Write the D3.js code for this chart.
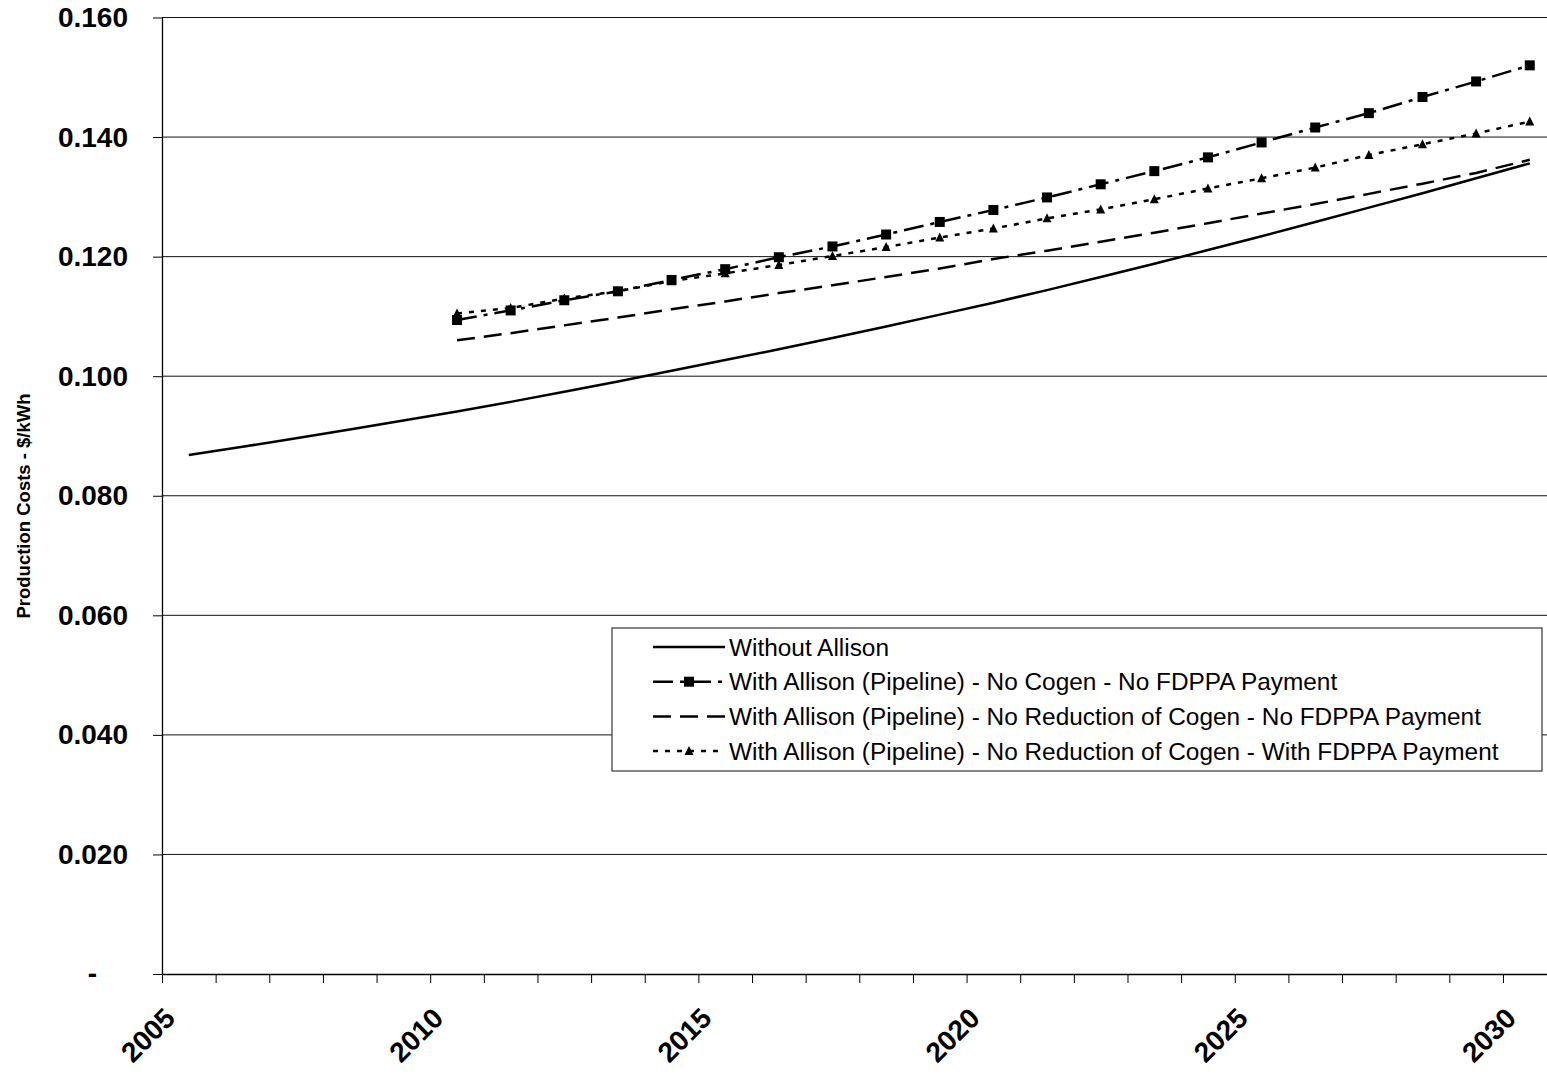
<!DOCTYPE html>
<html>
<head>
<meta charset="utf-8">
<script src="https://cdn.jsdelivr.net/npm/d3@7"></script>
<style>
  body { margin: 0; background: #fff; }
  text { font-family: Arial, "Liberation Sans", sans-serif; fill: #000; }
</style>
</head>
<body>
<div id="chart"></div>
<script>
// years on the category axis
const years = d3.range(2005, 2031);
const labelYears = [2005, 2010, 2015, 2020, 2025, 2030];
const yTicks = [0, 0.02, 0.04, 0.06, 0.08, 0.10, 0.12, 0.14, 0.16];

// Without Allison, 2005-2030
const withoutAllison = [0.0868, 0.0882, 0.0896, 0.0911, 0.0926, 0.0941, 0.0957, 0.0974, 0.0991, 0.1009,
  0.1027, 0.1045, 0.1064, 0.1083, 0.1103, 0.1123, 0.1144, 0.1166, 0.1188, 0.1211,
  0.1234, 0.1258, 0.1282, 0.1306, 0.1331, 0.1356];

// the three Allison cases, 2010-2030
const allisonYears = d3.range(2010, 2031);
const noCogenNoFdppa = [0.1094, 0.1110, 0.1127, 0.1142, 0.1161, 0.1179, 0.1199, 0.1217, 0.1237, 0.1258,
  0.1278, 0.1299, 0.1321, 0.1343, 0.1366, 0.1391, 0.1416, 0.1440, 0.1467, 0.1493, 0.1520];
const noReductionNoFdppa = [0.1060, 0.1072, 0.1085, 0.1098, 0.1112, 0.1125, 0.1139, 0.1152, 0.1166, 0.1180,
  0.1196, 0.1210, 0.1225, 0.1240, 0.1256, 0.1272, 0.1288, 0.1305, 0.1322, 0.1340, 0.1362];
const noReductionWithFdppa = [0.1105, 0.1114, 0.1130, 0.1142, 0.1159, 0.1172, 0.1186, 0.1201, 0.1216, 0.1232,
  0.1247, 0.1264, 0.1279, 0.1296, 0.1314, 0.1331, 0.1349, 0.1370, 0.1388, 0.1406, 0.1426];

const seriesNames = [
  "Without Allison",
  "With Allison (Pipeline) - No Cogen - No FDPPA Payment",
  "With Allison (Pipeline) - No Reduction of Cogen - No FDPPA Payment",
  "With Allison (Pipeline) - No Reduction of Cogen - With FDPPA Payment"
];

const W = 1547, H = 1076;
const plotLeft = 162, plotRight = 1556.6, plotTop = 17.5, plotBottom = 974;

const svg = d3.select("#chart").append("svg")
  .attr("width", W)
  .attr("height", H);

svg.append("rect").attr("width", W).attr("height", H).attr("fill", "#fff");

const x = d3.scaleLinear().domain([2004.5, 2030.5]).range([plotLeft, plotRight]);
const y = d3.scaleLinear().domain([0, 0.16]).range([plotBottom, plotTop]);

// gridlines
svg.append("g")
  .selectAll("line")
  .data(yTicks.filter(d => d > 0))
  .enter()
  .append("line")
  .attr("x1", plotLeft)
  .attr("x2", plotRight)
  .attr("y1", d => y(d))
  .attr("y2", d => y(d))
  .attr("stroke", "#111")
  .attr("stroke-width", 1);

// y axis
const yAxis = svg.append("g")
  .attr("transform", `translate(${plotLeft},0)`)
  .call(d3.axisLeft(y)
    .tickValues(yTicks)
    .tickSizeInner(9)
    .tickSizeOuter(0)
    .tickPadding(25)
    .tickFormat(d => d === 0 ? "-" : d3.format(".3f")(d)));
yAxis.select(".domain").attr("stroke", "#000").attr("stroke-width", 1.3);
yAxis.selectAll(".tick line").attr("stroke", "#000");
yAxis.selectAll("text")
  .attr("font-size", 28)
  .attr("font-weight", "bold")
  .attr("font-family", "Arial, 'Liberation Sans', sans-serif");
yAxis.selectAll(".tick")
  .filter(d => d === 0)
  .select("text")
  .attr("dx", -31);

// x axis, ticks on category boundaries
const xAxis = svg.append("g")
  .attr("transform", `translate(0,${plotBottom})`)
  .call(d3.axisBottom(x)
    .tickValues(d3.range(2004.5, 2031, 1))
    .tickSizeInner(9)
    .tickSizeOuter(0)
    .tickFormat(""));
xAxis.select(".domain").attr("stroke", "#000").attr("stroke-width", 1.3);
xAxis.selectAll(".tick line").attr("stroke", "#000");

svg.append("g")
  .selectAll("text")
  .data(labelYears)
  .enter()
  .append("text")
  .attr("transform", d => `translate(${x(d) - 12},${plotBottom + 46}) rotate(-45)`)
  .attr("text-anchor", "end")
  .attr("font-size", 28)
  .attr("font-weight", "bold")
  .text(d => d);

// y axis title
svg.append("text")
  .attr("transform", "translate(30,506) rotate(-90)")
  .attr("text-anchor", "middle")
  .attr("font-size", 18.5)
  .attr("font-weight", "bold")
  .text("Production Costs - $/kWh");

const line = d3.line()
  .x(d => x(d[0]))
  .y(d => y(d[1]));

const styles = [
  { dash: null },
  { dash: "20,7,4,7", marker: "square" },
  { dash: "18,9" },
  { dash: "5,7", marker: "triangle" }
];

const seriesData = [
  years.map((yr, i) => [yr, withoutAllison[i]]),
  allisonYears.map((yr, i) => [yr, noCogenNoFdppa[i]]),
  allisonYears.map((yr, i) => [yr, noReductionNoFdppa[i]]),
  allisonYears.map((yr, i) => [yr, noReductionWithFdppa[i]])
];

const plot = svg.append("g");

function drawMarker(g, type, cx, cy) {
  if (type === "square") {
    g.append("rect")
      .attr("x", cx - 5).attr("y", cy - 5)
      .attr("width", 10).attr("height", 10)
      .attr("fill", "#000");
  } else if (type === "triangle") {
    g.append("path")
      .attr("d", `M${cx},${cy - 5}L${cx + 4.5},${cy + 4}L${cx - 4.5},${cy + 4}Z`)
      .attr("fill", "#000");
  }
}

seriesData.forEach(function (data, i) {
  plot.append("path")
    .attr("d", line(data))
    .attr("fill", "none")
    .attr("stroke", "#000")
    .attr("stroke-width", 2.5)
    .attr("stroke-dasharray", styles[i].dash);
  if (styles[i].marker) {
    data.forEach(function (d) {
      drawMarker(plot, styles[i].marker, x(d[0]), y(d[1]));
    });
  }
});

// legend
const legend = svg.append("g");
legend.append("rect")
  .attr("x", 612).attr("y", 628)
  .attr("width", 930).attr("height", 143)
  .attr("fill", "#fff")
  .attr("stroke", "#444")
  .attr("stroke-width", 1.3);

seriesNames.forEach(function (name, i) {
  const cy = 647 + i * 34.7;
  legend.append("line")
    .attr("x1", 653).attr("x2", 725)
    .attr("y1", cy).attr("y2", cy)
    .attr("stroke", "#000")
    .attr("stroke-width", 2.5)
    .attr("stroke-dasharray", styles[i].dash);
  if (styles[i].marker) drawMarker(legend, styles[i].marker, 689, cy);
  legend.append("text")
    .attr("x", 729)
    .attr("y", cy + 8.5)
    .attr("font-size", 24.4)
    .text(name);
});
</script>
</body>
</html>
